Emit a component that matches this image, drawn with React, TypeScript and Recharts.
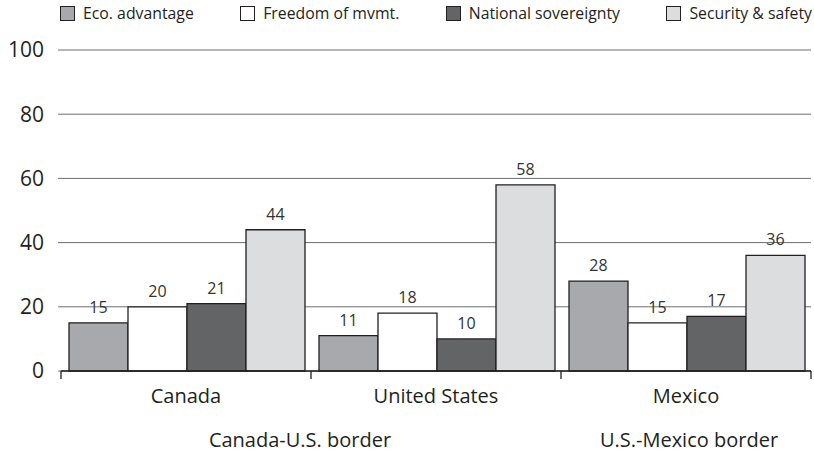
import React from "react";
import { BarChart, Bar, XAxis, YAxis, CartesianGrid, Legend, LabelList } from "recharts";

const categories = ["Canada", "United States", "Mexico"];
const borders = ["Canada-U.S. border", "", "U.S.-Mexico border"];
const ecoAdvantage = [15, 11, 28];
const freedomOfMovement = [20, 18, 15];
const nationalSovereignty = [21, 10, 17];
const securitySafety = [44, 58, 36];
const yTicks = [0, 20, 40, 60, 80, 100];

const data = categories.map((c, i) => ({
  category: c,
  border: borders[i],
  eco: ecoAdvantage[i],
  freedom: freedomOfMovement[i],
  national: nationalSovereignty[i],
  security: securitySafety[i],
}));

const FONT = "'Open Sans', 'Noto Sans', sans-serif";
const TEXT = "#231f20";
const STROKE = "#231f20";

const CHART_W = 814;
const CHART_H = 452;
const MARGIN_RIGHT = 3;
const Y_AXIS_W = 61;
const HALF_BAND = (CHART_W - MARGIN_RIGHT - Y_AXIS_W) / categories.length / 2;

const borderShift = [114, 0, 3];

const CategoryTick = (props: any) => {
  const { x, y, payload, index } = props;
  const last = index === categories.length - 1;
  return (
    <g>
      <line x1={x - HALF_BAND} y1={y} x2={x - HALF_BAND} y2={y + 8} stroke={STROKE} strokeWidth={1.3} />
      {last && (
        <line x1={x + HALF_BAND} y1={y} x2={x + HALF_BAND} y2={y + 8} stroke={STROKE} strokeWidth={1.3} />
      )}
      <text x={x} y={y + 18} dy="0.71em" textAnchor="middle" fontSize={20} fontFamily={FONT} fill={TEXT}>
        {payload.value}
      </text>
    </g>
  );
};

const BorderTick = (props: any) => {
  const { x, y, payload, index } = props;
  return (
    <text
      x={x + (borderShift[index] ?? 0)}
      y={y}
      dy="0.71em"
      textAnchor="middle"
      fontSize={20}
      fontFamily={FONT}
      fill={TEXT}
    >
      {payload.value}
    </text>
  );
};

const LegendContent = (props: any) => {
  const { payload } = props;
  return (
    <div
      style={{
        display: "flex",
        flexDirection: "row",
        justifyContent: "space-between",
        paddingLeft: 60,
        paddingRight: 2,
        fontFamily: FONT,
        fontSize: 15.8,
        color: TEXT,
        lineHeight: "18px",
      }}
    >
      {(payload || []).map((p: any) => (
        <div key={p.value} style={{ display: "flex", alignItems: "center" }}>
          <span
            style={{
              display: "inline-block",
              width: 13,
              height: 13,
              background: p.color,
              border: `1px solid ${STROKE}`,
              marginRight: 8,
            }}
          />
          <span>{p.value}</span>
        </div>
      ))}
    </div>
  );
};

export default function App() {
  return (
    <div style={{ position: "absolute", left: 0, top: 0, background: "#fff" }}>
      <BarChart
        width={CHART_W}
        height={CHART_H}
        data={data}
        margin={{ top: 32, right: MARGIN_RIGHT, left: 0, bottom: 0 }}
        barCategoryGap={8}
        barGap={0}
      >
        <Legend
          verticalAlign="top"
          content={<LegendContent />}
          wrapperStyle={{ top: 4, left: 0, width: CHART_W }}
        />
        <CartesianGrid horizontal={true} vertical={false} stroke="#6d6e70" strokeWidth={1} />
        <YAxis
          domain={[0, 100]}
          ticks={yTicks}
          interval={0}
          width={Y_AXIS_W}
          axisLine={false}
          tickLine={{ stroke: "#6d6e70" }}
          tickSize={3}
          tickMargin={14}
          tick={{ fontSize: 21, fill: TEXT, fontFamily: FONT }}
        />
        <XAxis
          xAxisId="x1cat"
          dataKey="category"
          height={40}
          axisLine={{ stroke: STROKE, strokeWidth: 1.3 }}
          tickLine={false}
          tickSize={0}
          tickMargin={0}
          interval={0}
          tick={<CategoryTick />}
        />
        <XAxis
          xAxisId="x2border"
          dataKey="border"
          height={41}
          axisLine={false}
          tickLine={false}
          tickSize={0}
          tickMargin={22}
          interval={0}
          tick={<BorderTick />}
        />
        <Bar xAxisId="x1cat" dataKey="eco" name="Eco. advantage" fill="#a7a9ac" stroke={STROKE} strokeWidth={1.3} isAnimationActive={false}>
          <LabelList dataKey="eco" position="top" offset={10} fill="#333" fontSize={16} fontFamily={FONT} />
        </Bar>
        <Bar xAxisId="x1cat" dataKey="freedom" name="Freedom of mvmt." fill="#ffffff" stroke={STROKE} strokeWidth={1.3} isAnimationActive={false}>
          <LabelList dataKey="freedom" position="top" offset={10} fill="#333" fontSize={16} fontFamily={FONT} />
        </Bar>
        <Bar xAxisId="x1cat" dataKey="national" name="National sovereignty" fill="#636466" stroke={STROKE} strokeWidth={1.3} isAnimationActive={false}>
          <LabelList dataKey="national" position="top" offset={10} fill="#333" fontSize={16} fontFamily={FONT} />
        </Bar>
        <Bar xAxisId="x1cat" dataKey="security" name="Security & safety" fill="#dcdddf" stroke={STROKE} strokeWidth={1.3} isAnimationActive={false}>
          <LabelList dataKey="security" position="top" offset={10} fill="#333" fontSize={16} fontFamily={FONT} />
        </Bar>
      </BarChart>
    </div>
  );
}
